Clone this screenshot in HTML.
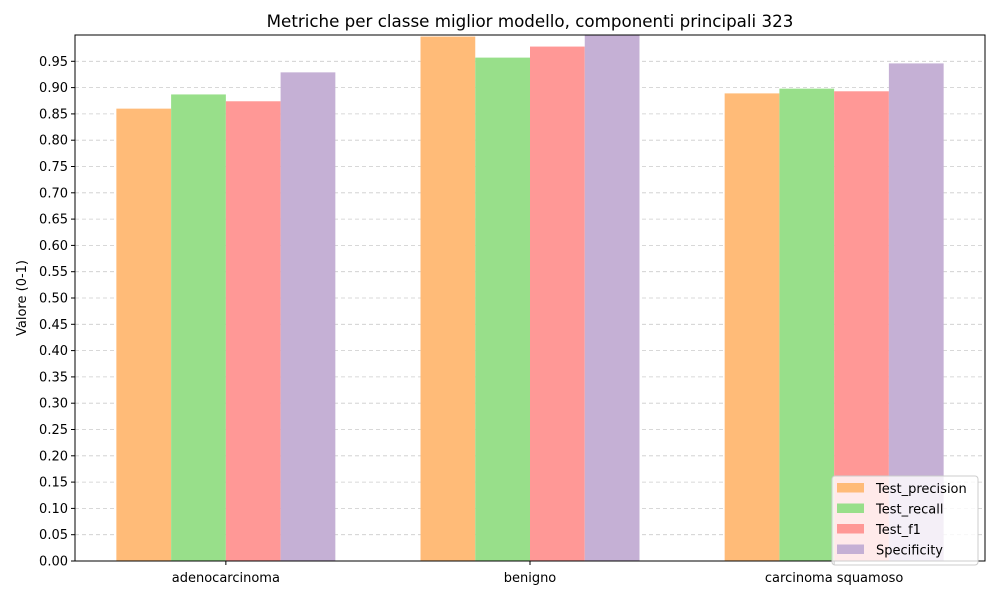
<!DOCTYPE html>
<html><head><meta charset="utf-8"><style>body{margin:0;background:#fff}svg{display:block;font-family:"DejaVu Sans","Liberation Sans",sans-serif}</style></head>
<body>
<svg id="c" width="1000" height="600"></svg>
<script>
const categories=["adenocarcinoma","benigno","carcinoma squamoso"];
const seriesNames=["Test_precision","Test_recall","Test_f1","Specificity"];
const precision=[0.860,0.997,0.889];
const recall=[0.887,0.957,0.898];
const f1=[0.874,0.978,0.893];
const specificity=[0.929,1.0,0.946];
const yTicks=[0,0.05,0.1,0.15,0.2,0.25,0.3,0.35,0.4,0.45,0.5,0.55,0.6,0.65,0.7,0.75,0.8,0.85,0.9,0.95];
const colors=["#ffbb78","#98df8a","#ff9896","#c5b0d5"];
const series=[precision,recall,f1,specificity];
const L=75,R=985,T=35,B=561;
const ns="http://www.w3.org/2000/svg";
const svg=document.getElementById('c');
const bw=0.18;
function y(v){return B-(v/1.0)*(B-T);}
const lo=-2*bw,hi=categories.length-1+2*bw,pad=(hi-lo)*0.05;
const xMin=lo-pad,xMax=hi+pad;
function x(v){return L+(v-xMin)/(xMax-xMin)*(R-L);}
function mk(t,a,p){const e=document.createElementNS(ns,t);for(const k in a)e.setAttribute(k,a[k]);(p||svg).appendChild(e);return e;}
let e;
yTicks.forEach(v=>{
 e=mk('line',{x1:L,x2:R,y1:y(v),y2:y(v),stroke:'#ccc','stroke-dasharray':'4,3','stroke-width':0.8});
 
 
 e=mk('line',{x1:L-4,x2:L,y1:y(v),y2:y(v),stroke:'#000'});
 
 
 e=mk('text',{x:L-7,y:y(v)+4.5,'text-anchor':'end','font-size':13});
 e.textContent=v.toFixed(2);
 
 
});
series.forEach((s,j)=>{
 s.forEach((v,i)=>{
  const cx=i+(j-1.5)*bw;
  e=mk('rect',{x:x(cx-bw/2),y:y(v),width:x(cx+bw/2)-x(cx-bw/2),height:B-y(v),fill:colors[j]});
  
  
 });
});
categories.forEach((c,i)=>{
 e=mk('line',{x1:x(i),x2:x(i),y1:B,y2:B+4,stroke:'#000'});
 
 
 e=mk('text',{x:x(i),y:B+21,'text-anchor':'middle','font-size':13});
 e.textContent=c;
 
 
});
e=mk('rect',{x:L,y:T,width:R-L,height:B-T,fill:'none',stroke:'#000','stroke-width':1});


e=mk('text',{x:530,y:27,'text-anchor':'middle','font-size':16.7});
e.textContent='Metriche per classe miglior modello, componenti principali 323';


e=mk('text',{x:26,y:298,'text-anchor':'middle','font-size':13,transform:'rotate(-90 26 298)'});
e.textContent='Valore (0-1)';


const lg=mk('g',{});


mk('rect',{x:832,y:476,width:146,height:89,rx:3,fill:'#fff','fill-opacity':0.8,stroke:'#ccc'},lg);
seriesNames.forEach((n,j)=>{
 const g=mk('g',{},lg);
 
 
 mk('rect',{x:837,y:483+j*20.5,width:27,height:9.5,fill:colors[j]},g);
 const t=mk('text',{x:876,y:493+j*20.5,'font-size':13},g);
 t.textContent=n;
});
</script>
</body></html>
